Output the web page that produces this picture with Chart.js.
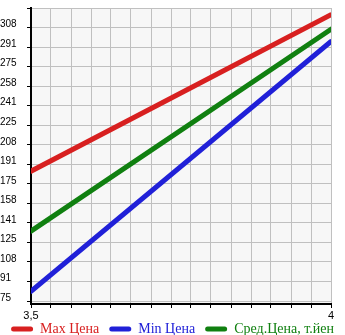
<!DOCTYPE html>
<html>
<head>
<meta charset="utf-8">
<script src="https://cdn.jsdelivr.net/npm/chart.js@4.4.1/dist/chart.umd.min.js"></script>
<style>
    html, body { margin: 0; padding: 0; background: #fff; }
    #wrap { width: 345px; height: 335px; position: relative; }
</style>
</head>
<body>
<div id="wrap"><canvas id="grafico"></canvas></div>
<script>
/* DADOS */
const xValores = [3.5, 4];
const maxPreco = [185.8, 319.2];
const minPreco = [83.3, 296.4];
const medPreco = [134.7, 306.9];
const nomesSeries = ["Max Цена", "Min Цена", "Сред.Цена, т.йен"];
const coresSeries = ["#d82020", "#2020d8", "#108010"];

const yMin = 72.5, yMax = 325, yPasso = 50 / 3;
const xPasso = 0.5 / 15;

/* fundo cinza só na área do gráfico */
const fundoArea = {
    id: "fundoArea",
    beforeDraw(chart) {
        const { ctx, chartArea: a } = chart;
        ctx.save();
        ctx.fillStyle = "#f7f7f7";
        ctx.fillRect(a.left, a.top, a.right - a.left, a.bottom - a.top);
        ctx.restore();
    }
};

/* sobe a legenda de volta para dentro do canvas */
const ajustaLegenda = {
    id: "ajustaLegenda",
    afterLayout(chart) {
        if (!chart.legend) return;
        chart.legend.top -= 10;
        chart.legend.bottom -= 10;
    }
};

const serie = (i, dados) => ({
    label: nomesSeries[i],
    data: dados.map((v, k) => ({ x: xValores[k], y: v })),
    borderColor: coresSeries[i],
    backgroundColor: coresSeries[i],
    borderWidth: 5,
    pointRadius: 0,
    borderCapStyle: "round",
    tension: 0
});

new Chart(document.querySelector("#grafico"), {
    type: "line",
    data: {
        datasets: [serie(0, maxPreco), serie(1, minPreco), serie(2, medPreco)]
    },
    options: {
        responsive: true,
        maintainAspectRatio: false,
        animation: false,
        layout: { padding: { top: 0, left: 0, right: 0, bottom: -21 } },
        plugins: {
            tooltip: { enabled: false },
            legend: {
                position: "bottom",
                align: "center",
                labels: {
                    boxWidth: 22,
                    boxHeight: 5,
                    padding: 10,
                    useBorderRadius: true,
                    borderRadius: 2.5,
                    font: { family: "Liberation Serif", size: 14 },
                    generateLabels(chart) {
                        return chart.data.datasets.map((d, i) => ({
                            text: d.label,
                            fillStyle: coresSeries[i],
                            strokeStyle: coresSeries[i],
                            lineWidth: 0,
                            fontColor: coresSeries[i],
                            borderRadius: 2.5,
                            datasetIndex: i
                        }));
                    }
                }
            }
        },
        scales: {
            x: {
                type: "linear",
                min: 3.5,
                max: 4,
                afterBuildTicks(s) {
                    s.ticks = [];
                    for (let k = 0; k <= 15; k++) s.ticks.push({ value: 3.5 + k * xPasso });
                },
                afterFit(s) { s.height = 18; },
                border: { color: "#000", width: 2 },
                grid: { color: "#c0c0c0", tickColor: "#000", tickLength: 4 },
                ticks: {
                    autoSkip: false,
                    maxRotation: 0,
                    padding: 1,
                    color: "#000",
                    font: { family: "Liberation Sans", size: 11 },
                    callback(v, i) {
                        if (i === 0) return "3,5";
                        if (i === 15) return "4";
                        return "";
                    }
                }
            },
            y: {
                min: yMin,
                max: yMax,
                afterBuildTicks(s) {
                    s.ticks = [];
                    for (let k = 0; k <= 15; k++) s.ticks.push({ value: 75 + k * yPasso });
                },
                afterFit(s) { s.width = 31; },
                border: { color: "#000", width: 2 },
                grid: { color: "#c0c0c0", tickColor: "#000", tickLength: 4 },
                ticks: {
                    autoSkip: false,
                    crossAlign: "far",
                    padding: 2,
                    labelOffset: -3,
                    color: "#000",
                    font: { family: "Liberation Sans", size: 10 },
                    callback(v, i) {
                        return i >= 15 ? "" : String(Math.floor(v + 1e-6));
                    }
                }
            },
            // eixo vazio só para reservar a margem da direita
            margem: {
                position: "right",
                afterFit(s) { s.width = 14; },
                border: { display: false },
                grid: { display: false },
                ticks: { display: false }
            }
        }
    },
    plugins: [fundoArea, ajustaLegenda]
});
</script>
</body>
</html>
